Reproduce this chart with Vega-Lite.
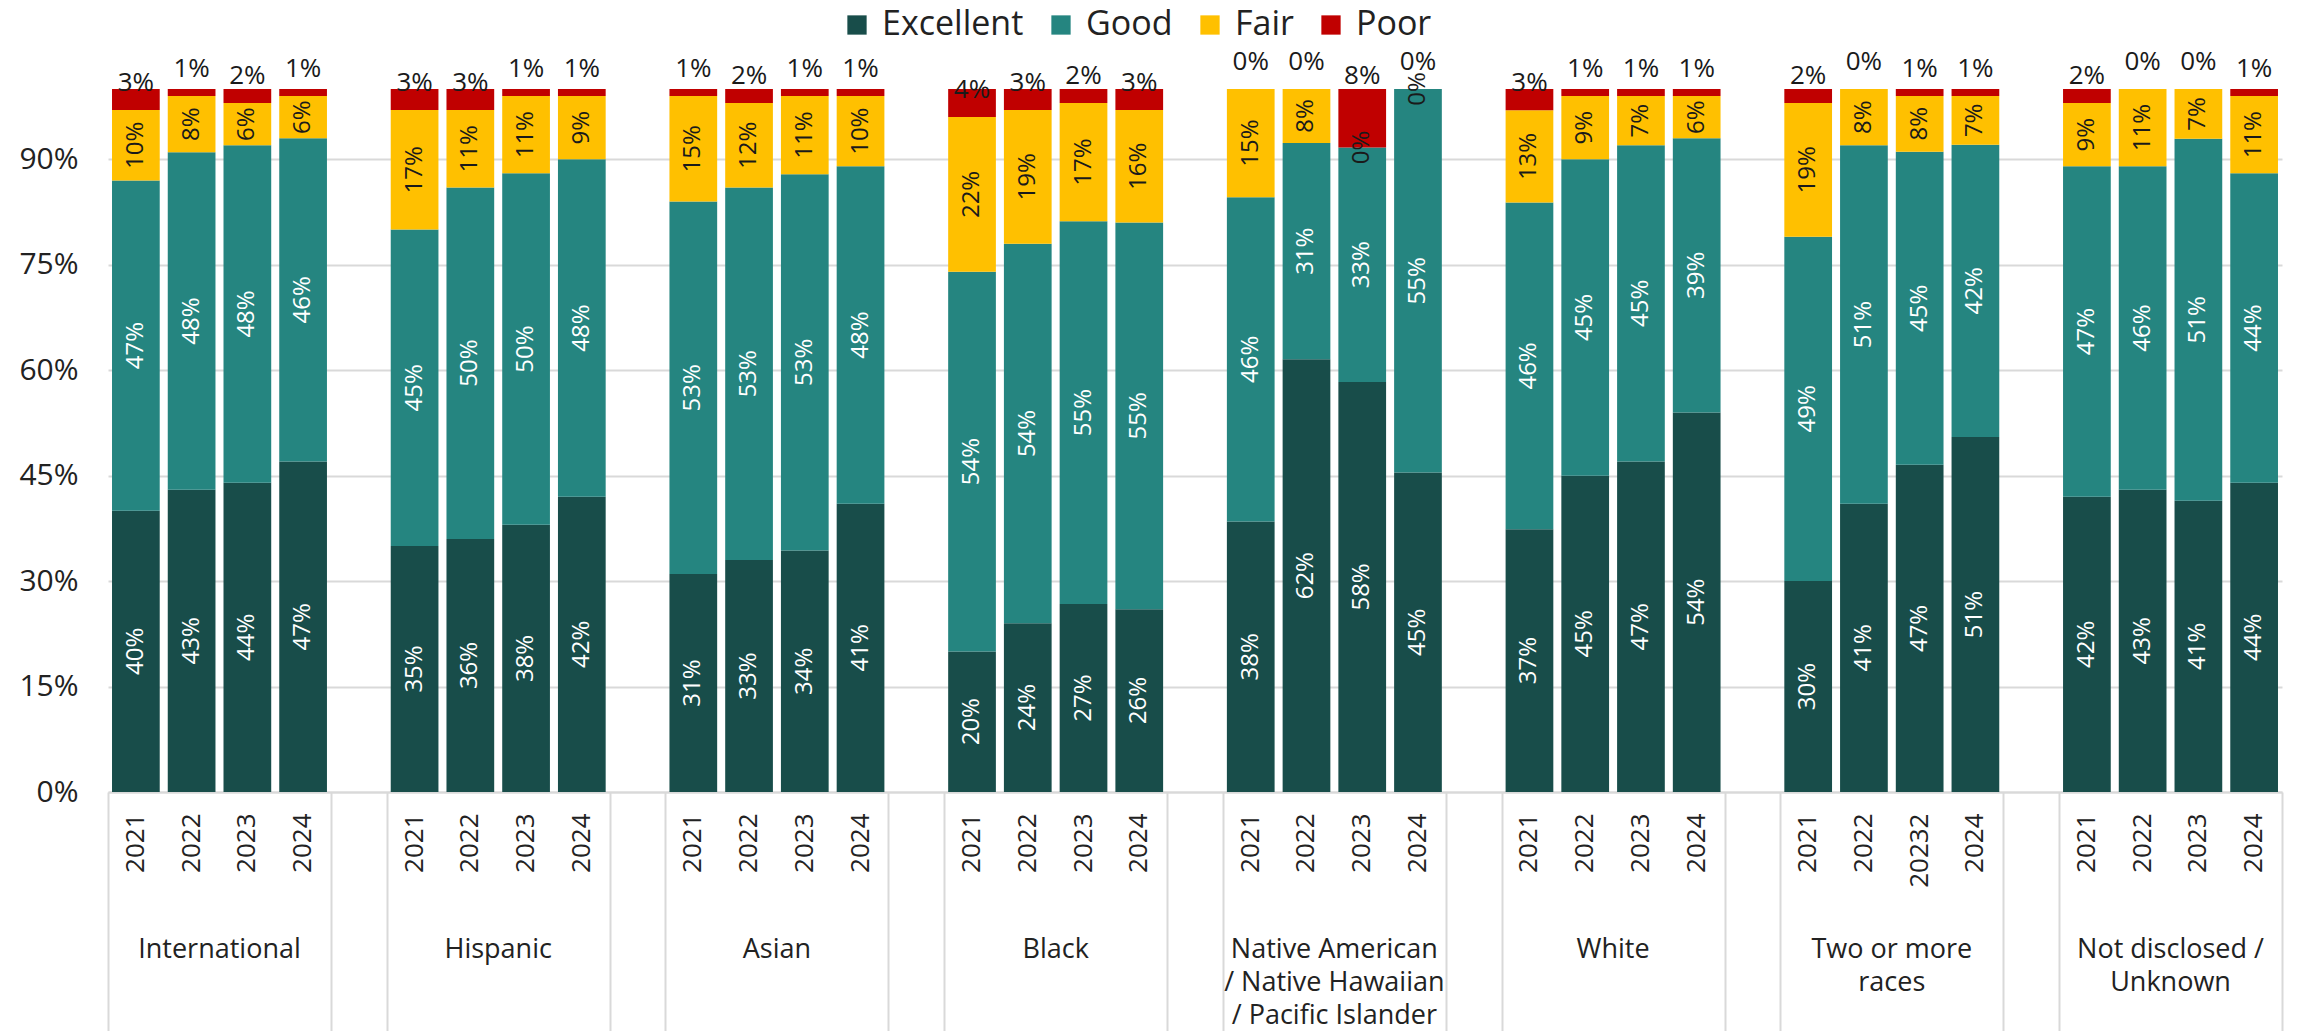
{
  "$schema": "https://vega.github.io/schema/vega-lite/v6.json",
  "width": 2174,
  "height": 703,
  "autosize": {"type": "none"},
  "padding": {"left": 108, "top": 89, "right": 15, "bottom": 239},
  "background": "white",
  "config": {"view": {"stroke": null}, "font": "Open Sans"},
  "data": {"values": [
    {"cat": "International|2021", "Excellent": 0.40, "Good": 0.47, "Fair": 0.10, "Poor": 0.03},
    {"cat": "International|2022", "Excellent": 0.43, "Good": 0.48, "Fair": 0.08, "Poor": 0.01},
    {"cat": "International|2023", "Excellent": 0.44, "Good": 0.48, "Fair": 0.06, "Poor": 0.02},
    {"cat": "International|2024", "Excellent": 0.47, "Good": 0.46, "Fair": 0.06, "Poor": 0.01},
    {"cat": "Hispanic|2021", "Excellent": 0.35, "Good": 0.45, "Fair": 0.17, "Poor": 0.03},
    {"cat": "Hispanic|2022", "Excellent": 0.36, "Good": 0.50, "Fair": 0.11, "Poor": 0.03},
    {"cat": "Hispanic|2023", "Excellent": 0.38, "Good": 0.50, "Fair": 0.11, "Poor": 0.01},
    {"cat": "Hispanic|2024", "Excellent": 0.42, "Good": 0.48, "Fair": 0.09, "Poor": 0.01},
    {"cat": "Asian|2021", "Excellent": 0.31, "Good": 0.53, "Fair": 0.15, "Poor": 0.01},
    {"cat": "Asian|2022", "Excellent": 0.33, "Good": 0.53, "Fair": 0.12, "Poor": 0.02},
    {"cat": "Asian|2023", "Excellent": 0.34, "Good": 0.53, "Fair": 0.11, "Poor": 0.01},
    {"cat": "Asian|2024", "Excellent": 0.41, "Good": 0.48, "Fair": 0.10, "Poor": 0.01},
    {"cat": "Black|2021", "Excellent": 0.20, "Good": 0.54, "Fair": 0.22, "Poor": 0.04},
    {"cat": "Black|2022", "Excellent": 0.24, "Good": 0.54, "Fair": 0.19, "Poor": 0.03},
    {"cat": "Black|2023", "Excellent": 0.27, "Good": 0.55, "Fair": 0.17, "Poor": 0.02},
    {"cat": "Black|2024", "Excellent": 0.26, "Good": 0.55, "Fair": 0.16, "Poor": 0.03},
    {"cat": "Native American~/ Native Hawaiian~/ Pacific Islander|2021", "Excellent": 0.3846, "Good": 0.4615, "Fair": 0.1538, "Poor": 0},
    {"cat": "Native American~/ Native Hawaiian~/ Pacific Islander|2022", "Excellent": 0.6154, "Good": 0.3077, "Fair": 0.0769, "Poor": 0},
    {"cat": "Native American~/ Native Hawaiian~/ Pacific Islander|2023", "Excellent": 0.5833, "Good": 0.3333, "Fair": 0, "Poor": 0.0833},
    {"cat": "Native American~/ Native Hawaiian~/ Pacific Islander|2024", "Excellent": 0.4545, "Good": 0.5455, "Fair": 0, "Poor": 0},
    {"cat": "White|2021", "Excellent": 0.37, "Good": 0.46, "Fair": 0.13, "Poor": 0.03},
    {"cat": "White|2022", "Excellent": 0.45, "Good": 0.45, "Fair": 0.09, "Poor": 0.01},
    {"cat": "White|2023", "Excellent": 0.47, "Good": 0.45, "Fair": 0.07, "Poor": 0.01},
    {"cat": "White|2024", "Excellent": 0.54, "Good": 0.39, "Fair": 0.06, "Poor": 0.01},
    {"cat": "Two or more~races|2021", "Excellent": 0.30, "Good": 0.49, "Fair": 0.19, "Poor": 0.02},
    {"cat": "Two or more~races|2022", "Excellent": 0.41, "Good": 0.51, "Fair": 0.08, "Poor": 0.00},
    {"cat": "Two or more~races|20232", "Excellent": 0.47, "Good": 0.45, "Fair": 0.08, "Poor": 0.01},
    {"cat": "Two or more~races|2024", "Excellent": 0.51, "Good": 0.42, "Fair": 0.07, "Poor": 0.01},
    {"cat": "Not disclosed /~Unknown|2021", "Excellent": 0.42, "Good": 0.47, "Fair": 0.09, "Poor": 0.02},
    {"cat": "Not disclosed /~Unknown|2022", "Excellent": 0.43, "Good": 0.46, "Fair": 0.11, "Poor": 0.00},
    {"cat": "Not disclosed /~Unknown|2023", "Excellent": 0.41, "Good": 0.51, "Fair": 0.07, "Poor": 0.00},
    {"cat": "Not disclosed /~Unknown|2024", "Excellent": 0.44, "Good": 0.44, "Fair": 0.11, "Poor": 0.01}
  ]},
  "transform": [
    {"fold": ["Excellent", "Good", "Fair", "Poor"], "as": ["rating", "value"]},
    {"calculate": "indexof(['Excellent','Good','Fair','Poor'], datum.rating)", "as": "ord"}
  ],
  "resolve": {"axis": {"x": "independent"}},
  "layer": [
    {
      "mark": {"type": "bar", "width": {"band": 0.856}},
      "encoding": {
        "x": {
          "field": "cat", "type": "nominal", "sort": null,
          "scale": {"domain": ["International|2021","International|2022","International|2023","International|2024","blank1","Hispanic|2021","Hispanic|2022","Hispanic|2023","Hispanic|2024","blank2","Asian|2021","Asian|2022","Asian|2023","Asian|2024","blank3","Black|2021","Black|2022","Black|2023","Black|2024","blank4","Native American~/ Native Hawaiian~/ Pacific Islander|2021","Native American~/ Native Hawaiian~/ Pacific Islander|2022","Native American~/ Native Hawaiian~/ Pacific Islander|2023","Native American~/ Native Hawaiian~/ Pacific Islander|2024","blank5","White|2021","White|2022","White|2023","White|2024","blank6","Two or more~races|2021","Two or more~races|2022","Two or more~races|20232","Two or more~races|2024","blank7","Not disclosed /~Unknown|2021","Not disclosed /~Unknown|2022","Not disclosed /~Unknown|2023","Not disclosed /~Unknown|2024"], "paddingInner": 0, "paddingOuter": 0},
          "axis": {
            "orient": "bottom", "title": null, "grid": false,
            "domain": true, "domainColor": "#d9d9d9", "domainWidth": 2,
            "ticks": false, "labelAngle": -90, "labelFontSize": 26, "labelColor": "#222",
            "labelPadding": 21, "labelOverlap": false,
            "labelExpr": "indexof(datum.label, '|') < 0 ? '' : split(datum.label, '|')[1]"
          }
        },
        "y": {
          "field": "value", "type": "quantitative", "stack": "normalize",
          "scale": {"domain": [0, 1]},
          "axis": {"title": null, "values": [0, 0.15, 0.3, 0.45, 0.6, 0.75, 0.9], "format": ".0%", "labelFontSize": 30, "labelColor": "#222", "labelPadding": 30, "domain": false, "ticks": false, "grid": true, "gridColor": "#d9d9d9", "gridWidth": 2}
        },
        "order": {"field": "ord", "type": "quantitative"},
        "color": {
          "field": "rating", "type": "nominal",
          "scale": {"domain": ["Excellent", "Good", "Fair", "Poor"], "range": ["#184d4a", "#258580", "#ffc000", "#c00000"]},
          "legend": {"orient": "none", "legendX": 732, "legendY": -81, "direction": "horizontal", "title": null, "symbolType": "square", "symbolSize": 372, "symbolStrokeWidth": 0, "symbolOpacity": 1, "labelFontSize": 34, "labelOffset": 8, "columnPadding": 20, "labelColor": "#222", "labelLimit": 400, "padding": 0}
        }
      }
    },
    {
      "mark": {"type": "text", "angle": 270, "align": "center", "baseline": "middle", "fontSize": 24},
      "encoding": {
        "x": {
          "field": "cat", "type": "nominal", "sort": null,
          "scale": {"domain": ["International|2021","International|2022","International|2023","International|2024","blank1","Hispanic|2021","Hispanic|2022","Hispanic|2023","Hispanic|2024","blank2","Asian|2021","Asian|2022","Asian|2023","Asian|2024","blank3","Black|2021","Black|2022","Black|2023","Black|2024","blank4","Native American~/ Native Hawaiian~/ Pacific Islander|2021","Native American~/ Native Hawaiian~/ Pacific Islander|2022","Native American~/ Native Hawaiian~/ Pacific Islander|2023","Native American~/ Native Hawaiian~/ Pacific Islander|2024","blank5","White|2021","White|2022","White|2023","White|2024","blank6","Two or more~races|2021","Two or more~races|2022","Two or more~races|20232","Two or more~races|2024","blank7","Not disclosed /~Unknown|2021","Not disclosed /~Unknown|2022","Not disclosed /~Unknown|2023","Not disclosed /~Unknown|2024"], "paddingInner": 0, "paddingOuter": 0},
          "axis": {
            "orient": "bottom", "title": null, "grid": false, "domain": false, "labels": false,
            "ticks": true, "tickBand": "extent", "tickSize": 239, "tickColor": "#d9d9d9", "tickWidth": 2,
            "tickOpacity": {"condition": {"test": "!datum.value || indexof(datum.value, '|2024') >= 0 || indexof(datum.value, 'blank') == 0", "value": 1}, "value": 0}
          }
        },
        "y": {
          "field": "value", "type": "quantitative", "stack": "normalize", "bandPosition": 0.5,
          "scale": {"domain": [0, 1]},
          "axis": {"title": null, "values": [0, 0.15, 0.3, 0.45, 0.6, 0.75, 0.9], "format": ".0%", "labelFontSize": 30, "labelColor": "#222", "labelPadding": 30, "domain": false, "ticks": false, "grid": true, "gridColor": "#d9d9d9", "gridWidth": 2}
        },
        "order": {"field": "ord", "type": "quantitative"},
        "detail": {"field": "rating", "type": "nominal"},
        "text": {"condition": {"test": "datum.rating != 'Poor'", "field": "value", "type": "quantitative", "format": ".0%"}, "value": ""},
        "color": {"condition": {"test": "datum.rating == 'Fair'", "value": "#1a1a1a"}, "value": "#ffffff"}
      }
    },
    {
      "transform": [
        {"stack": "value", "groupby": ["cat"], "sort": [{"field": "ord", "order": "ascending"}], "offset": "normalize", "as": ["s0", "s1"]},
        {"filter": "datum.rating == 'Poor'"},
        {"calculate": "datum.s0 < 0.95 ? 0.98 : datum.s0", "as": "ly"}
      ],
      "mark": {"type": "text", "align": "center", "baseline": "alphabetic", "fontSize": 26, "dy": -19, "color": "#1a1a1a"},
      "encoding": {
        "x": {
          "field": "cat", "type": "nominal", "sort": null,
          "scale": {"domain": ["International|2021","International|2022","International|2023","International|2024","blank1","Hispanic|2021","Hispanic|2022","Hispanic|2023","Hispanic|2024","blank2","Asian|2021","Asian|2022","Asian|2023","Asian|2024","blank3","Black|2021","Black|2022","Black|2023","Black|2024","blank4","Native American~/ Native Hawaiian~/ Pacific Islander|2021","Native American~/ Native Hawaiian~/ Pacific Islander|2022","Native American~/ Native Hawaiian~/ Pacific Islander|2023","Native American~/ Native Hawaiian~/ Pacific Islander|2024","blank5","White|2021","White|2022","White|2023","White|2024","blank6","Two or more~races|2021","Two or more~races|2022","Two or more~races|20232","Two or more~races|2024","blank7","Not disclosed /~Unknown|2021","Not disclosed /~Unknown|2022","Not disclosed /~Unknown|2023","Not disclosed /~Unknown|2024"], "paddingInner": 0, "paddingOuter": 0},
          "axis": {
            "orient": "bottom", "title": null, "grid": false, "domain": false, "ticks": false,
            "labelAngle": 0, "labelAlign": "center", "labelBaseline": "top", "labelFontSize": 27, "labelColor": "#222",
            "labelLineHeight": 33, "labelPadding": 144, "labelOffset": 27.87, "labelOverlap": false, "labelLimit": 400,
            "labelExpr": "indexof(datum.label, '|2022') >= 0 ? split(split(datum.label, '|')[0], '~') : ''"
          }
        },
        "y": {
          "field": "ly", "type": "quantitative",
          "scale": {"domain": [0, 1]},
          "axis": {"title": null, "values": [0, 0.15, 0.3, 0.45, 0.6, 0.75, 0.9], "format": ".0%", "labelFontSize": 30, "labelColor": "#222", "labelPadding": 30, "domain": false, "ticks": false, "grid": true, "gridColor": "#d9d9d9", "gridWidth": 2}
        },
        "text": {"field": "value", "type": "quantitative", "format": ".0%"}
      }
    }
  ]
}
